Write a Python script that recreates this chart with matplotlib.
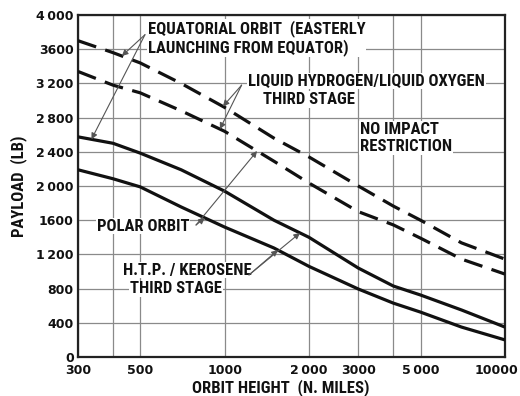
import numpy as np
import matplotlib
matplotlib.use("Agg")
import matplotlib.pyplot as plt
from matplotlib.transforms import ScaledTranslation

x_height = [300, 400, 500, 700, 1000, 1500, 2000, 3000, 4000, 5000, 7000, 10000]
eq_lh2 = [3700, 3560, 3440, 3200, 2920, 2560, 2340, 2000, 1765, 1600, 1335, 1145]
polar_lh2 = [3340, 3180, 3090, 2880, 2640, 2290, 2035, 1700, 1545, 1390, 1145, 970]
eq_htp = [2575, 2500, 2385, 2190, 1940, 1600, 1400, 1040, 830, 725, 550, 350]
polar_htp = [2190, 2085, 1990, 1755, 1520, 1275, 1060, 795, 630, 525, 350, 200]

xticks = [300, 500, 1000, 2000, 3000, 5000, 10000]
xticklabels = ["300", "500", "1000", "2\u2009000", "3000", "5\u2009000", "10000"]
xgrid_extra = [400, 4000]
yticks = [0, 400, 800, 1200, 1600, 2000, 2400, 2800, 3200, 3600, 4000]
yticklabels = ["0", "400", "800", "1\u2009200", "1600", "2\u2009000", "2\u2009400",
               "2\u2009800", "3\u2009200", "3600", "4\u2009000"]

FAM = ["Roboto Condensed", "Archivo Narrow", "PT Sans Narrow", "Liberation Sans Narrow", "DejaVu Sans"]
TICKFAM = ["DejaVu Sans"]
plt.rcParams['font.family'] = FAM

fig = plt.figure(figsize=(5.2, 3.96), dpi=100)
ax = fig.add_axes([0.15, 0.0985, 0.821, 0.8635])
ax.set_xscale('log')
ax.set_xlim(300, 10000)
ax.set_ylim(0, 4000)

for v in xticks + xgrid_extra:
    ax.axvline(v, color='#8a8a8a', lw=0.9, zorder=1)
for v in yticks:
    ax.axhline(v, color='#8a8a8a', lw=0.9, zorder=1)

ax.set_xticks(xticks)
ax.set_xticklabels(xticklabels, family=TICKFAM, fontweight='bold')
ax.xaxis.set_minor_locator(matplotlib.ticker.NullLocator())
ax.set_yticks(yticks)
ax.set_yticklabels(yticklabels, family=TICKFAM, fontweight='bold')
ax.tick_params(length=0, labelsize=9, colors='#111111')
ax.tick_params(axis='x', pad=5)
ax.tick_params(axis='y', pad=3)
last = ax.get_xticklabels()[-1]
last.set_transform(last.get_transform() + ScaledTranslation(-8 / 100, 0, fig.dpi_scale_trans))

for s in ax.spines.values():
    s.set_linewidth(1.6)
    s.set_color('#222222')

lw = 2.3
ax.plot(x_height, eq_lh2, color='#111111', lw=lw, dashes=(6, 3), zorder=3)
ax.plot(x_height, polar_lh2, color='#111111', lw=lw, dashes=(6, 3), zorder=3)
ax.plot(x_height, eq_htp, color='#111111', lw=lw, zorder=3)
ax.plot(x_height, polar_htp, color='#111111', lw=lw, zorder=3)

lab = dict(fontsize=12, color='#111111', fontweight='bold')
ax.set_xlabel("ORBIT HEIGHT  (N. MILES)", va='center', **lab)
ax.set_ylabel("PAYLOAD  (LB)", va='center', **lab)
ax.xaxis.set_label_coords(0.475, -0.09)
ax.yaxis.set_label_coords(-0.14, 0.5)

tk = dict(fontsize=12, color='#111111', fontweight='bold', zorder=4,
          bbox=dict(facecolor='white', edgecolor='none', pad=0.6))

def at(xs, ys, xq):
    return float(np.interp(np.log10(xq), np.log10(xs), ys))

ax.text(0.164, 0.933, "EQUATORIAL ORBIT  (EASTERLY\nLAUNCHING FROM EQUATOR)",
        transform=ax.transAxes, ha='left', va='center', linespacing=1.15, **tk)
ax.text(0.398, 0.807, "LIQUID HYDROGEN/LIQUID OXYGEN", transform=ax.transAxes,
        ha='left', va='center', **tk)
ax.text(0.433, 0.754, "THIRD STAGE", transform=ax.transAxes, ha='left', va='center', **tk)
ax.text(0.660, 0.640, "NO IMPACT\nRESTRICTION", transform=ax.transAxes,
        ha='left', va='center', linespacing=1.15, **tk)
ax.text(0.0445, 0.383, "POLAR ORBIT", transform=ax.transAxes, ha='left', va='center', **tk)
ax.text(0.105, 0.254, "H.T.P. / KEROSENE", transform=ax.transAxes, ha='left', va='center', **tk)
ax.text(0.122, 0.199, "THIRD STAGE", transform=ax.transAxes, ha='left', va='center', **tk)

ap = dict(arrowstyle='-|>', lw=0.8, color='#555555', mutation_scale=9, shrinkA=0, shrinkB=0)

def arrow(src, xs, ys, xq):
    ax.annotate("", xy=(xq, at(xs, ys, xq)), xytext=src, arrowprops=ap, zorder=5)

arrow((520, 3770), x_height, eq_lh2, 430)
arrow((520, 3770), x_height, eq_htp, 335)
arrow((1150, 3180), x_height, eq_lh2, 986)
arrow((1150, 3180), x_height, polar_lh2, 962)
arrow((791, 1544), x_height, polar_htp, 850)
arrow((791, 1544), x_height, polar_lh2, 1306)
arrow((1222, 960), x_height, polar_htp, 1549)
arrow((1222, 960), x_height, eq_htp, 1858)

fig.savefig("out.png", dpi=100)
